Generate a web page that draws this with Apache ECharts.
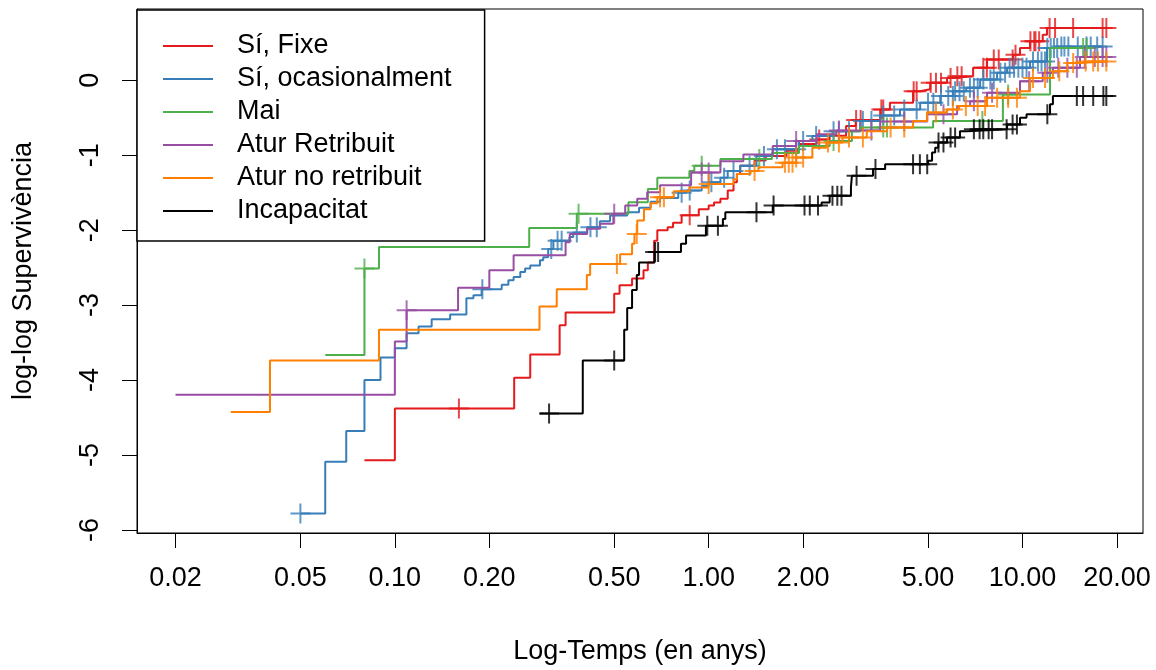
<!DOCTYPE html>
<html><head><meta charset="utf-8">
<script src="https://cdn.jsdelivr.net/npm/echarts@6/dist/echarts.min.js"></script>
<style>html,body{margin:0;padding:0;background:#fff}#c{width:1156px;height:670px}</style>
</head><body><div id="c"></div>
<script>
// ---- data (time in years, value = log(-log S(t))) ----
const seriesNames = ['Sí, Fixe', 'Sí, ocasionalment', 'Mai', 'Atur Retribuit', 'Atur no retribuit', 'Incapacitat'];
const xTickLabels = [0.02, 0.05, 0.10, 0.20, 0.50, 1.00, 2.00, 5.00, 10.00, 20.00];
const yTickLabels = [-6, -5, -4, -3, -2, -1, 0];

const redTimes = [0.08, 0.10, 0.24, 0.27, 0.335, 0.35, 0.50, 0.52, 0.57, 0.62, 0.64, 0.67, 0.686, 0.74, 0.77, 0.82, 0.93, 1.00, 1.04, 1.09, 1.15, 1.20, 1.23, 1.26, 1.40, 1.52, 1.77, 1.94, 2.21, 2.43, 2.74, 2.94, 3.52, 3.78, 4.48, 4.71, 5.08, 5.75, 6.01, 6.96, 7.71, 9.33, 9.82, 10.57, 11.6, 11.97, 18.5];
const redVals = [-5.07, -4.38, -3.97, -3.66, -3.27, -3.10, -2.85, -2.735, -2.645, -2.535, -2.43, -2.14, -2.00, -1.96, -1.90, -1.80, -1.72, -1.67, -1.63, -1.58, -1.47, -1.36, -1.25, -1.14, -1.07, -1.01, -0.94, -0.85, -0.79, -0.74, -0.61, -0.53, -0.39, -0.30, -0.146, -0.12, -0.035, 0.03, 0.053, 0.165, 0.275, 0.34, 0.43, 0.52, 0.607, 0.695, 0.695];
const redCensor = [0.16, 0.87, 2.25, 2.95, 3.05, 3.55, 3.6, 4.5, 4.6, 5.1, 5.3, 5.5, 5.9, 6.2, 6.4, 7.5, 7.7, 8.1, 8.4, 9.3, 9.5, 10.6, 10.9, 11.0, 11.3, 12.2, 12.7, 14.5, 18.0, 18.5];

const blueTimes = [0.05, 0.06, 0.07, 0.08, 0.09, 0.10, 0.109, 0.119, 0.131, 0.150, 0.169, 0.178, 0.189, 0.219, 0.230, 0.239, 0.251, 0.26, 0.27, 0.29, 0.297, 0.308, 0.32, 0.36, 0.37, 0.41, 0.45, 0.485, 0.55, 0.60, 0.653, 0.70, 0.80, 0.85, 0.95, 1.00, 1.09, 1.15, 1.26, 1.42, 1.60, 1.94, 2.14, 2.48, 3.04, 3.52, 4.07, 4.72, 5.47, 6.01, 6.62, 7.33, 8.30, 8.93, 10.57, 11.97, 13.17, 18.0];
const blueVals = [-5.78, -5.09, -4.68, -4.00, -3.70, -3.575, -3.376, -3.287, -3.19, -3.124, -2.91, -2.87, -2.79, -2.73, -2.668, -2.624, -2.557, -2.513, -2.47, -2.40, -2.36, -2.25, -2.14, -2.09, -2.03, -1.96, -1.88, -1.805, -1.76, -1.70, -1.62, -1.57, -1.50, -1.47, -1.41, -1.36, -1.30, -1.21, -1.14, -1.01, -0.92, -0.81, -0.743, -0.68, -0.544, -0.47, -0.39, -0.30, -0.21, -0.146, -0.10, 0.01, 0.098, 0.165, 0.25, 0.43, 0.45, 0.45];
const blueCensor = [0.05, 0.19, 0.315, 0.33, 0.34, 0.38, 0.42, 0.44, 0.82, 0.87, 1.02, 1.12, 1.2, 1.35, 1.5, 1.65, 1.75, 1.9, 2.0, 2.2, 2.5, 2.6, 2.8, 3.1, 3.3, 3.6, 3.9, 4.2, 4.6, 5.0, 5.2, 5.5, 5.8, 6.0, 6.1, 6.3, 6.5, 6.8, 7.0, 7.2, 7.5, 7.9, 8.1, 8.5, 8.8, 9.1, 9.4, 9.7, 10.0, 10.3, 10.8, 11.2, 11.5, 11.8, 12.0, 12.3, 12.6, 12.9, 13.3, 13.6, 14.0, 15.0, 16.0, 16.5, 17.3, 18.0];

const greenTimes = [0.06, 0.08, 0.089, 0.268, 0.38, 0.555, 0.64, 0.686, 0.868, 0.90, 1.09, 1.59, 1.94, 2.43, 2.86, 3.04, 5.19, 8.66, 12.24, 16.0];
const greenVals = [-3.664, -2.51, -2.225, -1.973, -1.78, -1.627, -1.45, -1.30, -1.21, -1.14, -1.05, -0.97, -0.876, -0.81, -0.68, -0.63, -0.544, -0.19, 0.43, 0.43];
const greenCensor = [0.08, 0.385, 0.95, 1.45, 2.5, 3.6, 3.7, 7.45, 9.0, 15.6, 16.0];

const purpleTimes = [0.02, 0.10, 0.109, 0.159, 0.20, 0.239, 0.35, 0.361, 0.41, 0.451, 0.497, 0.542, 0.592, 0.637, 0.70, 0.879, 1.09, 1.29, 1.60, 1.90, 2.21, 2.55, 3.52, 4.97, 6.19, 6.81, 7.71, 9.82, 11.6, 12.5, 15.25, 18.5];
const purpleVals = [-4.195, -3.486, -3.07, -2.77, -2.535, -2.336, -2.16, -2.05, -1.98, -1.915, -1.78, -1.67, -1.58, -1.495, -1.40, -1.23, -1.08, -0.99, -0.876, -0.81, -0.72, -0.67, -0.55, -0.455, -0.345, -0.28, -0.167, -0.013, 0.098, 0.165, 0.31, 0.31];
const purpleCensor = [0.109, 0.50, 0.95, 1.0, 1.9, 2.6, 3.3, 4.2, 5.6, 7.0, 8.0, 10.5, 12.0, 13.0, 13.9, 14.9, 15.8, 17.0, 18.0, 18.5];

const orangeTimes = [0.03, 0.04, 0.089, 0.289, 0.328, 0.409, 0.419, 0.522, 0.57, 0.58, 0.592, 0.622, 0.653, 0.686, 0.774, 0.868, 0.997, 1.20, 1.23, 1.36, 1.44, 1.72, 1.90, 2.14, 2.37, 2.67, 3.19, 3.70, 4.48, 4.97, 5.75, 6.28, 7.71, 9.82, 10.57, 12.5, 13.9, 15.25, 18.5];
const orangeVals = [-4.425, -3.74, -3.33, -3.02, -2.79, -2.60, -2.45, -2.32, -2.18, -2.05, -1.87, -1.72, -1.64, -1.56, -1.48, -1.43, -1.385, -1.32, -1.25, -1.21, -1.16, -1.10, -1.03, -0.90, -0.83, -0.765, -0.68, -0.63, -0.544, -0.43, -0.39, -0.345, -0.234, -0.146, 0.03, 0.12, 0.23, 0.25, 0.25];
const orangeCensor = [0.51, 0.59, 0.70, 0.72, 1.0, 1.4, 1.75, 1.8, 1.85, 1.9, 2.0, 2.4, 2.6, 2.8, 3.1, 3.8, 4.2, 5.3, 6.0, 6.6, 7.2, 7.6, 8.3, 9.0, 9.6, 10.8, 11.8, 13.1, 14.5, 15.9, 16.8, 17.4, 18.5];

const blackTimes = [0.29, 0.397, 0.538, 0.55, 0.57, 0.59, 0.60, 0.672, 0.816, 0.847, 0.98, 1.11, 1.13, 1.60, 2.29, 2.43, 2.84, 2.86, 3.34, 3.65, 5.00, 5.15, 5.27, 5.39, 5.75, 6.32, 6.66, 8.93, 9.82, 10.3, 12.24, 12.5, 18.5];
const blackVals = [-4.447, -3.74, -3.33, -3.04, -2.80, -2.60, -2.43, -2.29, -2.18, -2.07, -1.94, -1.85, -1.76, -1.67, -1.63, -1.54, -1.43, -1.275, -1.185, -1.12, -1.075, -0.964, -0.90, -0.83, -0.765, -0.68, -0.655, -0.59, -0.50, -0.455, -0.32, -0.21, -0.21];
const blackCensor = [0.31, 0.50, 0.675, 0.69, 0.99, 1.07, 1.42, 1.61, 2.02, 2.10, 2.23, 2.48, 2.57, 2.65, 2.96, 3.4, 4.48, 4.71, 4.97, 5.4, 5.6, 5.9, 6.1, 7.0, 7.3, 7.5, 7.8, 8.0, 8.9, 9.3, 9.6, 12.0, 14.9, 15.6, 16.8, 18.1, 18.5];

const seriesColors = ['#E41A1C', '#377EB8', '#4DAF4A', '#984EA3', '#FF7F00', '#000000'];

// ---- build chart ----
const FONT = "'Liberation Sans', Arial, sans-serif";
const lg = Math.log10;
function stepAt(times, vals, t) {
  let v = vals[0];
  for (let i = 0; i < times.length; i++) { if (times[i] <= t + 1e-9) v = vals[i]; }
  return v;
}
const groups = [
  [redTimes, redVals, redCensor],
  [blueTimes, blueVals, blueCensor],
  [greenTimes, greenVals, greenCensor],
  [purpleTimes, purpleVals, purpleCensor],
  [orangeTimes, orangeVals, orangeCensor],
  [blackTimes, blackVals, blackCensor]
];
const series = [];
groups.forEach((g, k) => {
  const [times, vals, cens] = g;
  const color = seriesColors[k];
  series.push({
    name: seriesNames[k], type: 'line', step: 'end', symbol: 'none', showSymbol: false,
    data: times.map((t, i) => [lg(t), vals[i]]),
    lineStyle: { color: color, width: 2 }, itemStyle: { color: color },
    silent: true, z: 2 + k
  });
  series.push({
    name: seriesNames[k] + ' (censura)', type: 'scatter',
    symbol: 'path://M0,10L20,10M10,0L10,20', symbolSize: 20,
    data: cens.map(t => [lg(t), stepAt(times, vals, t)]),
    itemStyle: { color: 'rgba(0,0,0,0)', borderColor: color, borderWidth: 2 },
    silent: true, z: 2 + k
  });
});

const chart = echarts.init(document.getElementById('c'), null, { renderer: 'canvas' });
chart.setOption({
  animation: false,
  backgroundColor: '#fff',
  grid: { left: 137, right: 13, top: 9, bottom: 134, show: true, borderColor: '#000', borderWidth: 1, containLabel: false },
  legend: {
    data: seriesNames.map(n => ({ name: n, icon: 'rect' })), orient: 'vertical', left: 137, top: 10,
    itemWidth: 50, itemHeight: 2, itemGap: 5,
    padding: [22, 33, 16, 26], borderColor: '#000', borderWidth: 1.5, borderRadius: 0,
    backgroundColor: '#fff', selectedMode: false,
    textStyle: { fontSize: 27, fontFamily: FONT, color: '#000', lineHeight: 28, padding: [0, 0, 0, 19] }
  },
  xAxis: {
    type: 'value', min: -1.8217, max: 1.384,
    splitLine: { show: false },
    axisLine: { show: true, onZero: false, lineStyle: { color: '#000', width: 1 } },
    axisTick: { show: true, length: 15, customValues: xTickLabels.map(lg), lineStyle: { color: '#000', width: 1 } },
    axisLabel: {
      customValues: xTickLabels.map(lg), margin: 32, color: '#000', fontSize: 27, fontFamily: FONT,
      formatter: v => Math.pow(10, v).toFixed(2)
    },
    name: 'Log-Temps (en anys)', nameLocation: 'middle', nameGap: 105,
    nameTextStyle: { fontSize: 27, fontFamily: FONT, color: '#000' }
  },
  yAxis: {
    type: 'value', min: -6.04, max: 0.95,
    splitLine: { show: false },
    axisLine: { show: true, onZero: false, lineStyle: { color: '#000', width: 1 } },
    axisTick: { show: true, length: 15, customValues: yTickLabels, lineStyle: { color: '#000', width: 1 } },
    axisLabel: {
      customValues: yTickLabels, rotate: 90, margin: 33, color: '#000', fontSize: 27, fontFamily: FONT,
      formatter: v => String(v)
    },
    name: 'log-log Supervivència', nameLocation: 'middle', nameGap: 100, nameRotate: 90,
    nameTextStyle: { fontSize: 27, fontFamily: FONT, color: '#000' }
  },
  series: series
});
</script>
</body></html>
